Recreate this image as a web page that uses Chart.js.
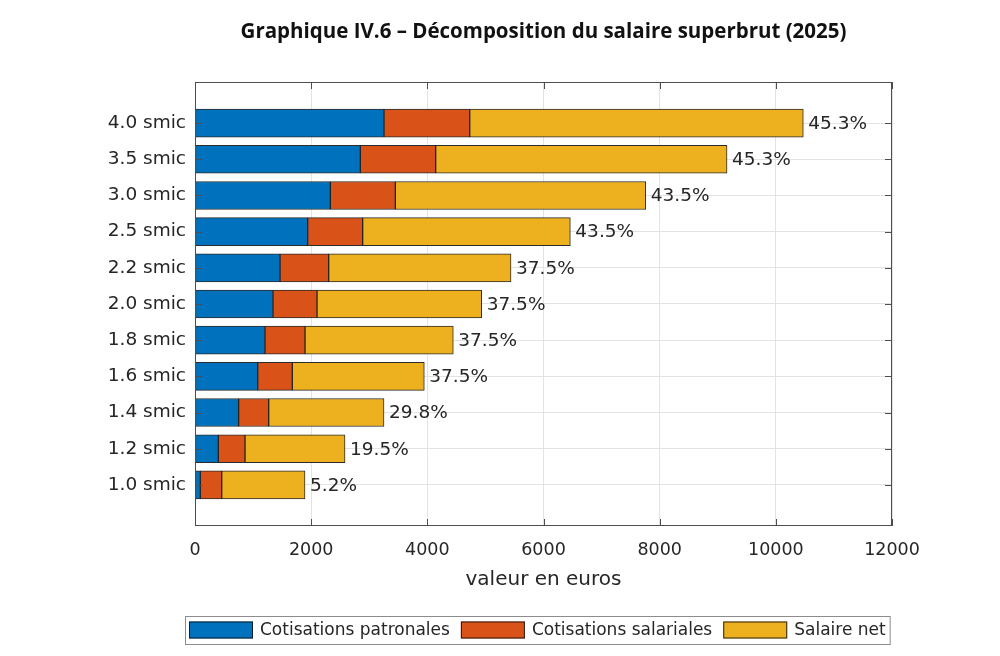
<!DOCTYPE html>
<html>
<head>
<meta charset="utf-8">
<script src="https://cdn.jsdelivr.net/npm/chart.js@4.4.1/dist/chart.umd.min.js"></script>
<style>
  html, body { margin: 0; background: #fff; }
  canvas { display: block; }
</style>
</head>
<body>
<canvas id="myChart" width="1000" height="656"></canvas>
<script>
// rows from bottom (1.0 smic) to top (4.0 smic)
const categories = ['1.0 smic', '1.2 smic', '1.4 smic', '1.6 smic', '1.8 smic', '2.0 smic',
                    '2.2 smic', '2.5 smic', '3.0 smic', '3.5 smic', '4.0 smic'];
const patronales = [91, 401, 752, 1080, 1205, 1343, 1464, 1940, 2330, 2846, 3254];
const salariales = [369, 460, 517, 595, 689, 758, 838, 947, 1119, 1298, 1476];
const salaireNet = [1434, 1722, 1985, 2273, 2553, 2835, 3139, 3575, 4311, 5016, 5743];
const tauxLabels = ['5.2%', '19.5%', '29.8%', '37.5%', '37.5%', '37.5%',
                    '37.5%', '43.5%', '43.5%', '45.3%', '45.3%'];
const xTicks = [0, 2000, 4000, 6000, 8000, 10000, 12000];
const seriesNames = ['Cotisations patronales', 'Cotisations salariales', 'Salaire net'];
const titleText = 'Graphique IV.6 \u2013 D\u00e9composition du salaire superbrut (2025)';

const colors = ['#0072BD', '#D95319', '#EDB120'];
const textColor = '#262626';
const fontName = '"DejaVu Sans"';

function toPoints(arr) {
  return arr.map((v, i) => ({x: v, y: i + 1}));
}

var datasets = [patronales, salariales, salaireNet].map((arr, k) => ({
  label: seriesNames[k],
  data: toPoints(arr),
  backgroundColor: colors[k],
  borderColor: 'rgba(20,20,20,0.9)',
  borderWidth: 1,
  borderSkipped: false,
  barThickness: 28,
}));

// box, inner ticks, percentages, title and legend
const decor = {
  id: 'decor',
  afterDatasetsDraw(chart) {
    const {ctx, chartArea: a, scales: {x, y}} = chart;
    ctx.save();
    ctx.font = '18.5px ' + fontName;
    ctx.fillStyle = textColor;
    ctx.textBaseline = 'middle';
    ctx.textAlign = 'left';
    categories.forEach((c, i) => {
      const total = patronales[i] + salariales[i] + salaireNet[i];
      ctx.fillText(tauxLabels[i], x.getPixelForValue(total) + 5, y.getPixelForValue(i + 1) + 1);
    });

    ctx.strokeStyle = '#4d4d4d';
    ctx.lineWidth = 1;
    ctx.strokeRect(a.left + 0.5, a.top + 0.5, a.right - a.left - 1, a.bottom - a.top - 1);
    ctx.beginPath();
    xTicks.forEach(v => {
      const px = Math.round(x.getPixelForValue(v)) + 0.5;
      ctx.moveTo(px, a.bottom); ctx.lineTo(px, a.bottom - 7);
      ctx.moveTo(px, a.top); ctx.lineTo(px, a.top + 7);
    });
    categories.forEach((c, i) => {
      const py = Math.round(y.getPixelForValue(i + 1)) + 0.5;
      ctx.moveTo(a.left, py); ctx.lineTo(a.left + 7, py);
      ctx.moveTo(a.right, py); ctx.lineTo(a.right - 7, py);
    });
    ctx.stroke();
    ctx.restore();
  },
  afterDraw(chart) {
    const {ctx, chartArea: a} = chart;
    ctx.save();
    // title
    ctx.font = 'bold 20.5px "Open Sans"';
    ctx.fillStyle = '#111';
    ctx.textAlign = 'center';
    ctx.textBaseline = 'middle';
    ctx.fillText(titleText, (a.left + a.right) / 2, 32);

    // legend
    ctx.font = '17px ' + fontName;
    const sw = 64, sh = 17, gapIn = 7, gapOut = 11, padX = 4;
    let total = padX * 2;
    seriesNames.forEach((n, k) => {
      total += sw + gapIn + ctx.measureText(n).width + (k < seriesNames.length - 1 ? gapOut : 0);
    });
    const cx = 537, cy = 630;
    let lx = Math.round(cx - total / 2);
    ctx.strokeStyle = '#8c8c8c';
    ctx.lineWidth = 1;
    ctx.fillStyle = '#fff';
    ctx.fillRect(lx, cy - 14, total, 28);
    ctx.strokeRect(lx + 0.5, cy - 14 + 0.5, total, 28);
    lx += padX;
    ctx.textAlign = 'left';
    seriesNames.forEach((n, k) => {
      ctx.fillStyle = colors[k];
      ctx.fillRect(lx, cy - sh / 2, sw, sh);
      ctx.strokeStyle = 'rgba(20,20,20,0.9)';
      ctx.strokeRect(lx + 0.5, cy - sh / 2 + 0.5, sw - 1, sh - 1);
      lx += sw + gapIn;
      ctx.fillStyle = textColor;
      ctx.fillText(n, lx, cy + 1);
      lx += ctx.measureText(n).width + gapOut;
    });
    ctx.restore();
  }
};

var canvas = document.getElementById('myChart').getContext('2d');
var myBarChart = new Chart(canvas, {
  type: 'bar',
  data: {datasets: datasets},
  options: {
    indexAxis: 'y',
    responsive: false,
    animation: false,
    layout: {padding: {left: 0, right: 108, top: 82, bottom: 60}},
    plugins: {
      legend: {display: false},
      tooltip: {enabled: false},
    },
    scales: {
      x: {
        type: 'linear',
        stacked: true,
        min: 0,
        max: 12000,
        afterBuildTicks: (scale) => { scale.ticks = xTicks.map(v => ({value: v})); },
        afterFit: (scale) => { scale.height = 70; },
        grid: {color: '#e3e3e3', drawTicks: false},
        border: {display: false},
        ticks: {color: textColor, font: {family: 'DejaVu Sans', size: 17.5}, padding: 14,
                maxRotation: 0, callback: (v) => String(v)},
        title: {display: true, text: 'valeur en euros', color: textColor,
                font: {family: 'DejaVu Sans', size: 20}, padding: {top: 0, bottom: 4}},
      },
      y: {
        type: 'linear',
        stacked: true,
        offset: false,
        min: -0.136,
        max: 12.136,
        afterBuildTicks: (scale) => { scale.ticks = categories.map((c, i) => ({value: i + 1})); },
        afterFit: (scale) => { scale.width = 195; },
        grid: {color: '#e3e3e3', drawTicks: false, offset: false},
        border: {display: false},
        ticks: {color: textColor, font: {family: 'DejaVu Sans', size: 18.5}, padding: 9,
                callback: (v) => categories[v - 1] || ''},
      },
    },
  },
  plugins: [decor],
});
</script>
</body>
</html>
